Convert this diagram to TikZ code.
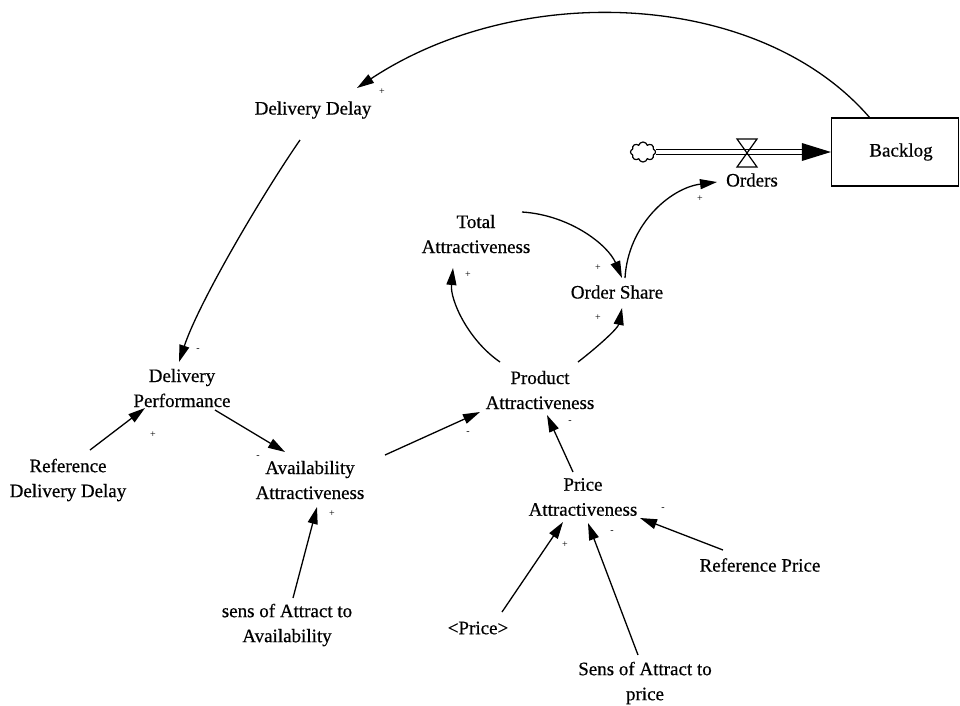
\documentclass[tikz,border=0pt]{standalone}
\usepackage{fontspec}
\setmainfont{Liberation Serif}
\newfontfamily\labelfont[FakeBold=0.5]{Liberation Serif}
\usetikzlibrary{arrows.meta,shapes.symbols,calc}

\begin{document}
\begin{tikzpicture}[x=1pt,y=-1pt,
  var/.style={font=\labelfont\fontsize{19}{25}\selectfont, align=center, inner sep=0pt},
  link/.style={line width=1.3pt, -{Triangle[length=17pt,width=10pt]}},
  pol/.style={font=\fontsize{10}{10}\selectfont, inner sep=0pt},
  pipe/.style={line width=1.2pt}
]
\useasboundingbox (0,0) rectangle (960,705);

% stock and flow
\node[draw, pipe, minimum width=127pt, minimum height=68pt, inner sep=0pt,
      font=\labelfont\fontsize{19}{25}\selectfont, text width=127pt, align=center,
      xshift=0pt] (bl) at (895,152) {\hspace*{12pt}Backlog};
\node[cloud, draw, pipe, cloud puffs=8, aspect=1.3, minimum width=25pt,
      minimum height=20pt, inner sep=0pt] (src) at (643,152) {};
\coordinate (valve) at (747,153);
\draw[pipe, double distance=4.5pt] (src.east) -- ([xshift=-27pt]bl.west);
\fill ([shift={(-29,-9)}]bl.west) -- (bl.west) -- ([shift={(-29,9)}]bl.west) -- cycle;
\draw[pipe, line join=miter] ([shift={(-10,-14)}]valve) -- ([shift={(10,-14)}]valve)
  -- ([shift={(-10,14)}]valve) -- ([shift={(10,14)}]valve) -- cycle;

% variables
\node[var] (ord) at (752,180) {Orders};
\node[var] (dd)  at (313,110) {Delivery Delay};
\node[var] (dp)  at (182,388) {Delivery\\Performance};
\node[var] (rdd) at (68,480)  {Reference\\Delivery Delay};
\node[var] (aa)  at (310,480) {Availability\\Attractiveness};
\node[var] (sa)  at (287,625) {sens of Attract to\\Availability};
\node[var] (pa)  at (540,390) {Product\\Attractiveness};
\node[var] (ta)  at (476,234) {Total\\Attractiveness};
\node[var] (os)  at (617,292) {Order Share};
\node[var] (pr)  at (583,497) {Price\\Attractiveness};
\node[var] (rp)  at (760,565) {Reference Price};
\node[var] (p)   at (478,628) {<Price>};
\node[var] (sp)  at (645,683) {Sens of Attract to\\price};

% causal links
\draw[link] ([shift={(-25,-34)}]bl.center) .. controls (760,-10) and (520,-20) .. ([shift={(44,-22)}]dd.center);
\draw[link] ([shift={(-13,30)}]dd.center) .. controls (262,195) and (199,302) .. ([shift={(-3,-26)}]dp.center);
\draw[link] ([shift={(22,-30)}]rdd.center) -- ([shift={(-37,20)}]dp.center);
\draw[link] ([shift={(33,22)}]dp.center) -- ([shift={(-25,-28)}]aa.center);
\draw[link] ([shift={(6,-27)}]sa.center) -- ([shift={(7,27)}]aa.center);
\draw[link] ([shift={(75,-25)}]aa.center) -- ([shift={(-60,22)}]pa.center);
\draw[link] ([shift={(-10,-25)}]pr.center) -- ([shift={(7,25)}]pa.center);
\draw[link] ([shift={(24,-16)}]p.center) -- ([shift={(-20,25)}]pr.center);
\draw[link] ([shift={(-7,-28)}]sp.center) -- ([shift={(5,26)}]pr.center);
\draw[link] ([shift={(-37,-15)}]rp.center) -- ([shift={(57,21)}]pr.center);
\draw[link] ([shift={(-40,-28)}]pa.center) .. controls (468,340) and (450,300) .. ([shift={(-23,34)}]ta.center);
\draw[link] ([shift={(38,-28)}]pa.center) .. controls (600,345) and (618,328) .. ([shift={(5,16)}]os.center);
\draw[link] ([shift={(46,-22)}]ta.center) .. controls (570,215) and (608,245) .. ([shift={(5,-14)}]os.center);
\draw[link] ([shift={(8,-14)}]os.center) .. controls (628,225) and (670,188) .. ([shift={(-35,2)}]ord.center);

% link polarities
\node[pol] (s1)  at (382,92)  {+};
\node[pol] (s2)  at (198,350) {-};
\node[pol] (s3)  at (153,435) {+};
\node[pol] (s4)  at (258,457) {-};
\node[pol] (s5)  at (332,514) {+};
\node[pol] (s6)  at (468,433) {-};
\node[pol] (s7)  at (570,422) {-};
\node[pol] (s8)  at (468,275) {+};
\node[pol] (s9)  at (598,268) {+};
\node[pol] (s10) at (598,318) {+};
\node[pol] (s11) at (700,199) {+};
\node[pol] (s12) at (663,509) {-};
\node[pol] (s13) at (612,532) {-};
\node[pol] (s14) at (565,545) {+};
\end{tikzpicture}
\end{document}
